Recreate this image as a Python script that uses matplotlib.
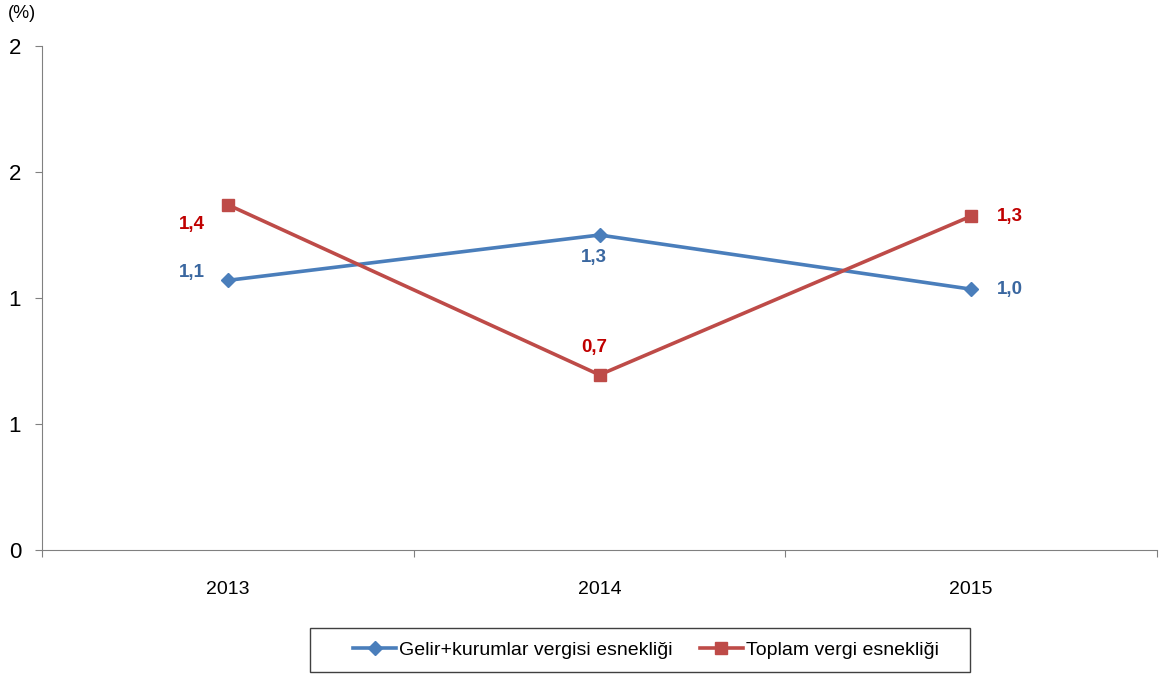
import matplotlib
matplotlib.use('Agg')
import matplotlib.pyplot as plt
from matplotlib.patches import Rectangle
from matplotlib.ticker import FuncFormatter

plt.rcParams['font.family'] = ['Liberation Sans', 'DejaVu Sans']

years = ['2013', '2014', '2015']
gelir = [1.07, 1.25, 1.035]
toplam = [1.37, 0.695, 1.325]
gelir_lbl = ['1,1', '1,3', '1,0']
toplam_lbl = ['1,4', '0,7', '1,3']

blue = '#4A7EBB'
red = '#BE4B48'

fig = plt.figure(figsize=(11.61, 6.74), dpi=100)
ax = fig.add_axes([42/1161, 124/674, 1115/1161, 504/674])

x = range(len(years))
ax.plot(x, gelir, color=blue, lw=2.6, marker='D', ms=7, label='Gelir+kurumlar vergisi esnekliği')
ax.plot(x, toplam, color=red, lw=2.6, marker='s', ms=9, label='Toplam vergi esnekliği')

ax.set_xlim(-0.5, 2.5)
ax.set_ylim(0, 2)
ax.set_yticks([0, 0.5, 1, 1.5, 2])
ax.yaxis.set_major_formatter(FuncFormatter(lambda v, p: '%d' % int(v + 0.5)))
ax.set_xticks([-0.5, 0.5, 1.5, 2.5])
ax.set_xticklabels([])
ax.set_xticks(list(x), minor=True)
ax.set_xticklabels(years, minor=True)
ax.tick_params(axis='x', which='major', length=5, direction='out', color='#808080')
ax.tick_params(axis='x', which='minor', length=0, pad=22, labelsize=14)
ax.tick_params(axis='y', length=5, color='#808080', labelsize=16, pad=10)
for s in ['top', 'right']:
    ax.spines[s].set_visible(False)
for s in ['left', 'bottom']:
    ax.spines[s].set_color('#808080')

# data labels
gelir_off = [(-26, 6), (-4, -16), (28, 0)]
toplam_off = [(-26, -14), (-4, 20), (28, 0)]
for i in x:
    ax.annotate(gelir_lbl[i], (i, gelir[i]), xytext=gelir_off[i], textcoords='offset points',
                ha='center', va='center', color='#3A67A0', fontsize=13.5, fontweight='bold')
    ax.annotate(toplam_lbl[i], (i, toplam[i]), xytext=toplam_off[i], textcoords='offset points',
                ha='center', va='center', color='#C00000', fontsize=13.5, fontweight='bold')

fig.text(8/1161, 1 - 14/674, '(%)', fontsize=13, va='center')

leg = fig.legend(loc='center', bbox_to_anchor=(646/1161, 1 - 650/674), ncol=2, fontsize=14,
                 frameon=False, handlelength=2.2, handletextpad=0.15, columnspacing=1.4)
fig.patches.append(Rectangle((310/1161, 2/674), 660/1161, 44/674, transform=fig.transFigure,
                             fill=False, edgecolor='#404040', lw=1))

fig.savefig('out.png', dpi=100)
